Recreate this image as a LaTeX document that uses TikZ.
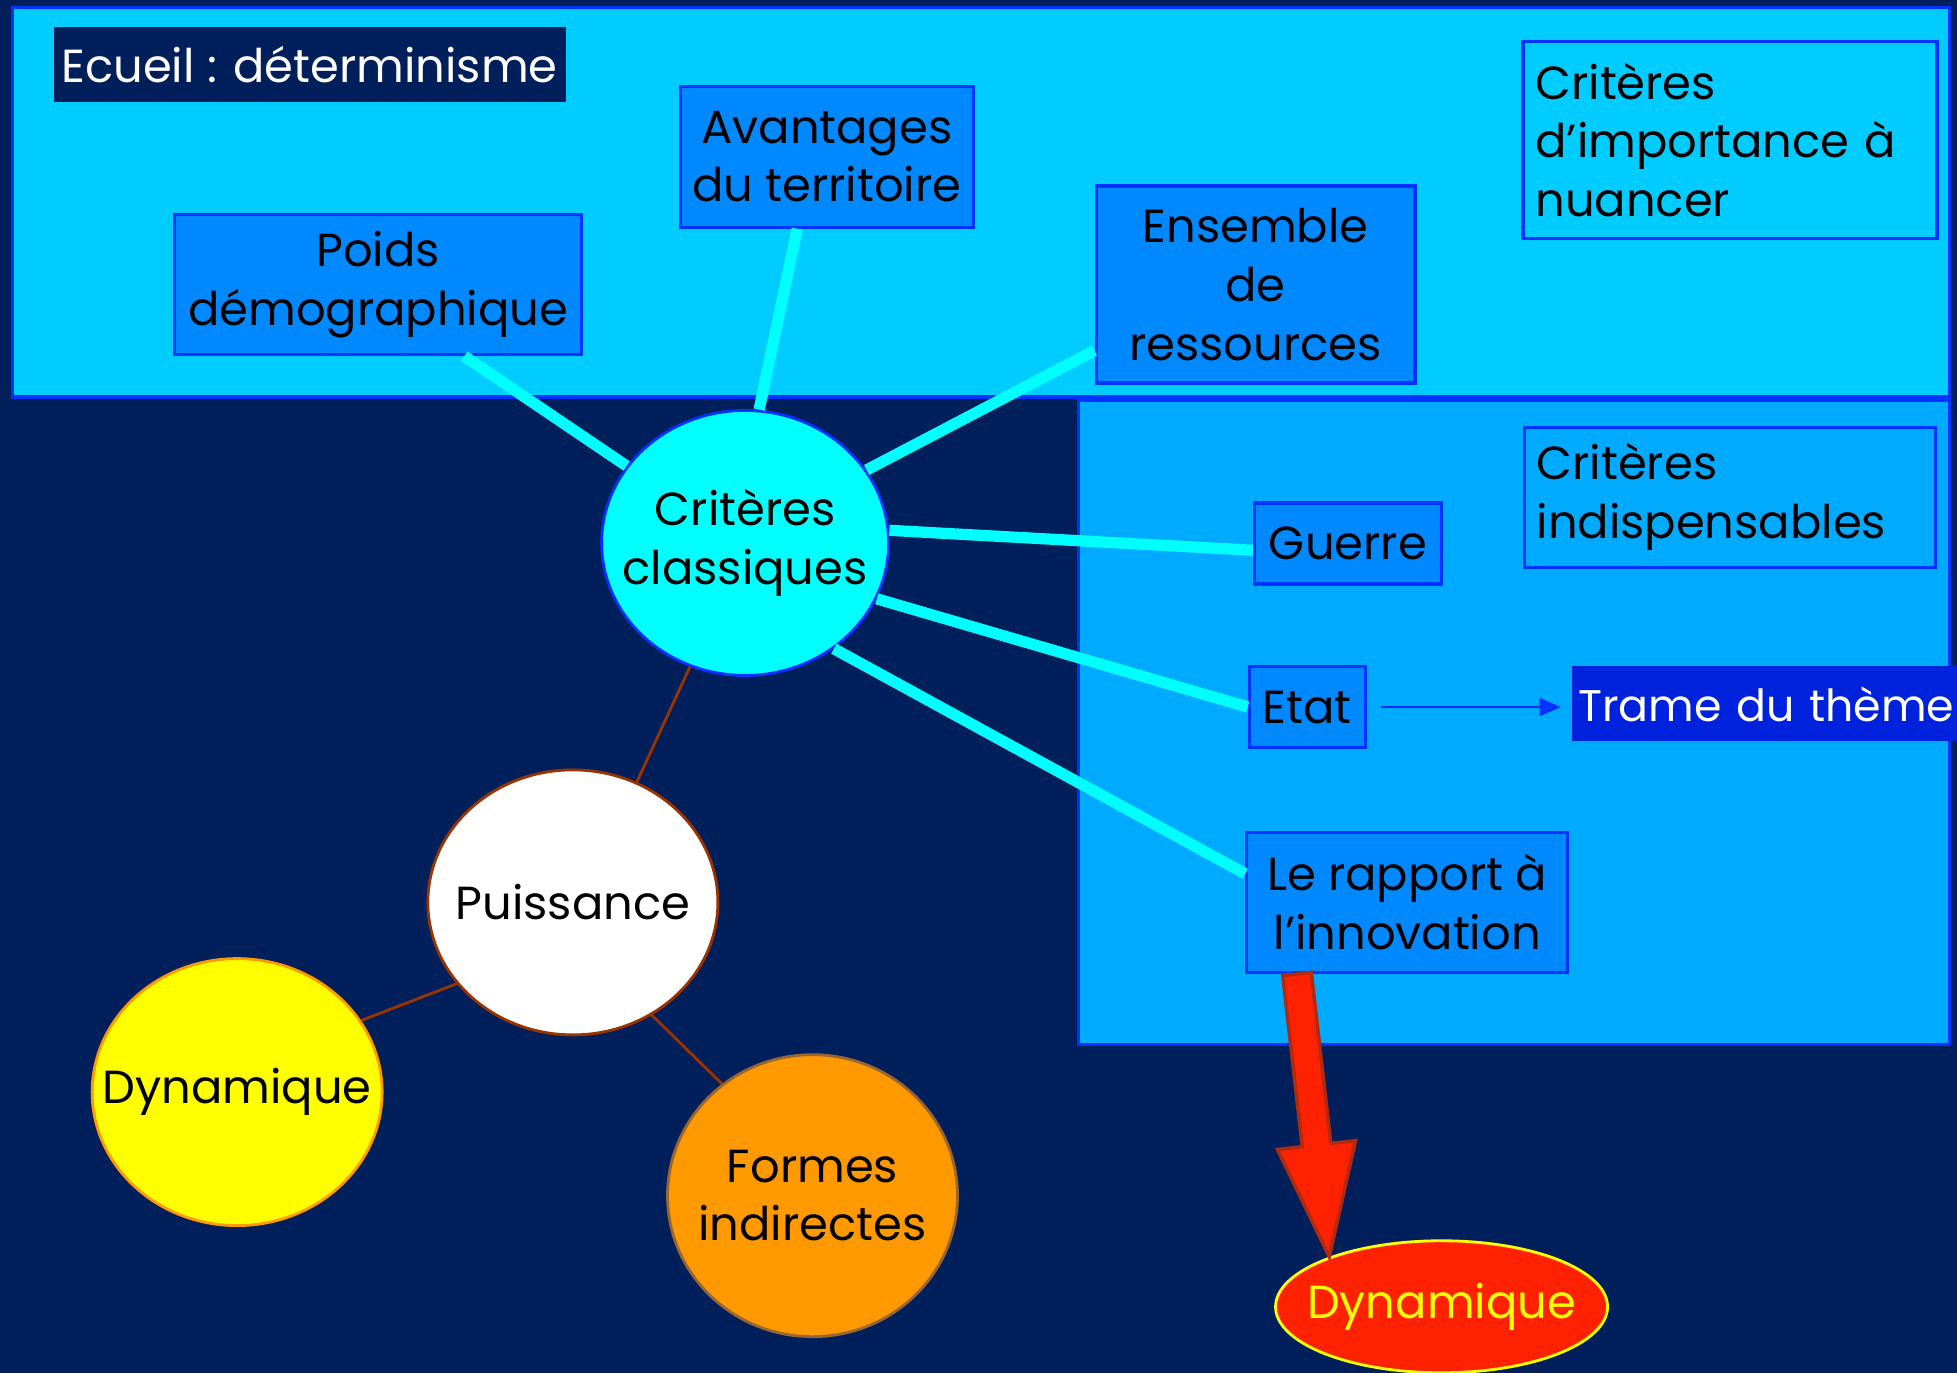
\documentclass[tikz,border=0pt]{standalone}
\usepackage{fontspec}
\setmainfont{Poppins}
\usetikzlibrary{shapes}
\usetikzlibrary{arrows.meta}
\usetikzlibrary{positioning}
\usetikzlibrary{calc}

\definecolor{fond}{HTML}{001F5B}
\definecolor{zonehaut}{HTML}{00CCFF}
\definecolor{zonedroite}{HTML}{00AAFF}
\definecolor{bleuboite}{HTML}{0088FF}
\definecolor{bordure}{HTML}{0033FF}
\definecolor{trame}{HTML}{0022DD}
\definecolor{turquoise}{HTML}{00FFFF}
\definecolor{jaune}{HTML}{FFFF00}
\definecolor{brun}{HTML}{993300}
\definecolor{orange}{HTML}{FF9900}
\definecolor{rouge}{HTML}{FF2200}
\definecolor{rougefonce}{HTML}{B02A10}
\definecolor{ocre}{HTML}{996633}

\newcommand{\texte}{\fontsize{13.2pt}{16.7pt}\selectfont}

\tikzset{
  boite/.style={draw=bordure, line width=0.9pt, fill=bleuboite, align=center, inner sep=0pt, font=\texte},
  cadre/.style={draw=bordure, line width=0.9pt, align=left, inner sep=0.125cm, font=\texte, anchor=north west},
  bulle/.style={ellipse, line width=0.8pt, inner sep=0pt},
  rayon/.style={draw=turquoise, line width=3.2pt},
  fil/.style={draw=brun, line width=0.8pt}
}

\begin{document}
\begin{tikzpicture}[x=0.01248cm, y=-0.01248cm]
  \path[use as bounding box, fill=fond] (0,0) rectangle (1568,1100);
  \clip (0,0) rectangle (1568,1100);
  \draw[fill=zonehaut, draw=bordure, line width=1pt] (10,6) rectangle (1562,318);
  \draw[fill=zonedroite, draw=bordure, line width=1pt] (864,321) rectangle (1562,837);

  \node[fill=fond, text=white, font=\texte, minimum width=5.12cm, minimum height=0.75cm, inner sep=0pt] (ecueil) at (248,52) {Ecueil : déterminisme};

  \node[boite, minimum width=2.93cm, minimum height=1.41cm] (avant) at (662.5,125.5) {Avantages\\du territoire};
  \node[boite, minimum width=4.07cm, minimum height=1.40cm] (poids) at (303,228) {Poids\\démographique};
  \node[boite, minimum width=3.19cm, minimum height=1.97cm] (ens) at (1006,228) {Ensemble\\de\\ressources};
  \node[cadre, text width=3.89cm, minimum height=1.97cm] (nuance) at (1219,32) {Critères\\d’importance à\\nuancer};
  \node[cadre, text width=3.86cm, minimum height=1.40cm] (indisp) at (1220,341) {Critères\\indispensables};

  \node[boite, minimum width=1.87cm, minimum height=0.81cm] (guerre) at (1080,435.5) {Guerre};
  \node[boite, minimum width=1.16cm, minimum height=0.81cm] (etat) at (1047.5,566.5) {Etat};
  \node[fill=trame, text=white, font=\fontsize{12.6pt}{15pt}\selectfont, anchor=west, minimum height=0.75cm, inner sep=0.06cm, align=left, text width=4.2cm] (trame) at (1259,564) {Trame du thème};
  \node[boite, minimum width=3.21cm, minimum height=1.40cm] (rapport) at (1127.5,723) {Le rapport à\\l’innovation};

  \node[bulle, draw=bordure, fill=turquoise, minimum width=2.87cm, minimum height=2.65cm,
        label={[align=center, font=\texte]center:Critères\\classiques}] (crit) at (597,435) {};
  \node[bulle, draw=brun, fill=white, minimum width=2.90cm, minimum height=2.65cm,
        label={[font=\texte]center:Puissance}] (puiss) at (459,723) {};
  \node[bulle, draw=orange, fill=jaune, minimum width=2.90cm, minimum height=2.67cm,
        label={[font=\texte]center:Dynamique}] (dyn) at (190,875) {};
  \node[bulle, draw=ocre, fill=orange, minimum width=2.90cm, minimum height=2.82cm,
        label={[align=center, font=\texte]center:Formes\\indirectes}] (formes) at (651,958) {};
  \node[bulle, draw=jaune, fill=rouge, minimum width=3.32cm, minimum height=1.32cm,
        label={[font=\texte, text=jaune]center:Dynamique}] (dynbis) at (1155,1047) {};

  % rayons autour des criteres classiques
  \draw[rayon] (crit.147) -- ($(poids.south west)!0.71!(poids.south east)$);
  \draw[rayon] (crit.84) -- ($(avant.south west)!0.4!(avant.south east)$);
  \draw[rayon] (crit.31) -- ($(ens.north west)!0.83!(ens.south west)$);
  \draw[rayon] (crit.5) -- ($(guerre.north west)!0.58!(guerre.south west)$);
  \draw[rayon] (crit.-23) -- (etat.west);
  \draw[rayon] (crit.-50) -- ($(rapport.north west)!0.3!(rapport.south west)$);

  \draw[fil] (crit.246) -- (puiss.62);
  \draw[fil] (puiss.215) -- (dyn.30);
  \draw[fil] (puiss.305) -- (formes.129);

  \draw[draw=bordure, line width=0.8pt, -{Triangle[width=5pt, length=6pt]}, shorten <=4pt, shorten >=3pt] (etat.east) -- (etat.east -| trame.west);

  % grosse fleche
  \coordinate (depart) at ($(rapport.south west)!0.16!(rapport.south east)$);
  \coordinate (pointe) at (dynbis.156);
  \coordinate (base) at ($(depart)!0.605!(pointe)$);
  \draw[fill=rouge, draw=rougefonce, line width=1pt, line join=miter]
    ($(depart)!0.1435cm!90:(pointe)$) -- ($(base)!0.1435cm!-90:(depart)$)
    -- ($(base)!0.393cm!-90:(depart)$) -- (pointe)
    -- ($(base)!0.393cm!90:(depart)$) -- ($(base)!0.1435cm!90:(depart)$)
    -- ($(depart)!0.1435cm!-90:(pointe)$) -- cycle;
\end{tikzpicture}
\end{document}
